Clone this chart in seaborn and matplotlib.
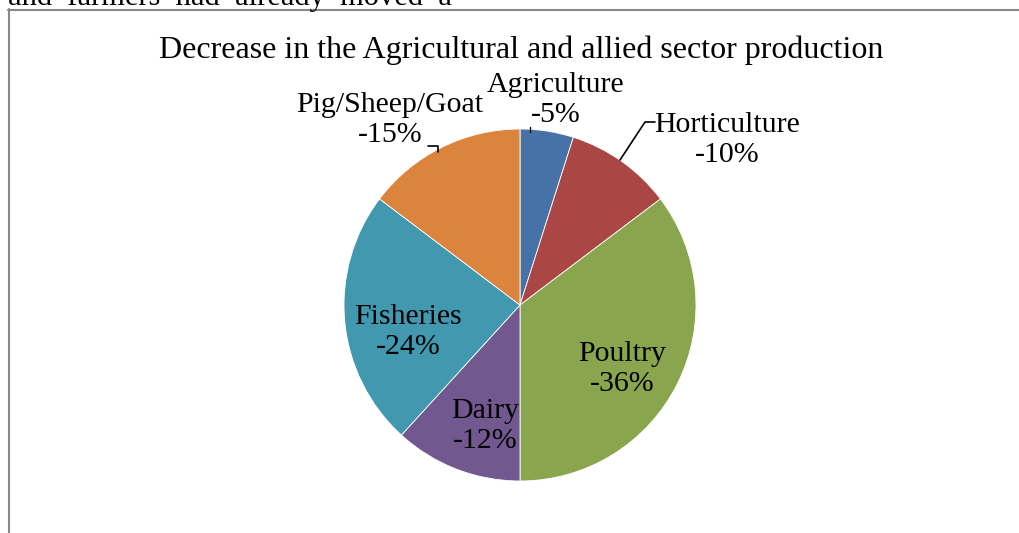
import matplotlib
matplotlib.use("Agg")
import matplotlib.pyplot as plt
from matplotlib.lines import Line2D
import seaborn as sns

# Sector-wise decrease in production (percent)
sectors = ["Agriculture", "Horticulture", "Poultry", "Dairy", "Fisheries", "Pig/Sheep/Goat"]
decrease = [-5, -10, -36, -12, -24, -15]
palette = ["#4672A8", "#AA4643", "#89A54E", "#71588F", "#4198AF", "#DB843D"]

sns.set_theme(style="white")
plt.rcParams["font.family"] = ["Liberation Serif", "DejaVu Serif"]

W, H = 1019, 533
fig = plt.figure(figsize=(W / 100, H / 100), dpi=100)
fig.patch.set_facecolor("white")

# pie centre and radius in pixels
cx, cy, r = 520, 305, 176
ax = fig.add_axes([0, 0, 1, 1])
sizes = [abs(v) for v in decrease]
wedges, _ = ax.pie(sizes, colors=sns.color_palette(palette), startangle=90,
                   counterclock=False, radius=1.0,
                   wedgeprops=dict(edgecolor="white", linewidth=0.6))
ax.set_aspect("auto")
ax.set_xlim(-cx / r, (W - cx) / r)
ax.set_ylim(-(H - cy) / r, cy / r)
ax.axis("off")

def px(x, y):
    return ((x - cx) / r, (cy - y) / r)

# label block centres (pixels)
label_pos = {
    "Agriculture": (556, 100),
    "Horticulture": (727, 140),
    "Poultry": (622, 369),
    "Dairy": (485, 426),
    "Fisheries": (408, 332),
    "Pig/Sheep/Goat": (390, 120),
}
fs = 21.5
for name, val in zip(sectors, decrease):
    x, y = px(*label_pos[name])
    ax.text(x, y, f"{name}\n{val}%", ha="center", va="center", fontsize=fs,
            linespacing=1.2, color="black")

# leader lines
lx, ly = zip(px(655, 122), px(645, 122), px(620, 160))
ax.plot(lx, ly, color="black", lw=1.2)
lx, ly = zip(px(428, 146), px(438, 146), px(438, 152))
ax.plot(lx, ly, color="black", lw=1.2)
lx, ly = zip(px(530, 127), px(530, 132))
ax.plot(lx, ly, color="black", lw=1.0)

fig.text(521 / W, 1 - 58 / H, "Decrease in the Agricultural and allied sector production",
         ha="center", va="baseline", fontsize=23, color="black")

# chart frame (left and top edges)
fig.add_artist(Line2D([8.5 / W, 8.5 / W], [0, 1 - 9 / H], transform=fig.transFigure,
                      color="#888888", lw=1.5))
fig.add_artist(Line2D([8 / W, 1], [1 - 9.5 / H, 1 - 9.5 / H], transform=fig.transFigure,
                      color="#888888", lw=1.5))

# running text above the chart
fig.text(8 / W, 1 - 5 / H, "and  farmers  had  already  moved  a", ha="left",
         va="baseline", fontsize=22, color="black")

fig.savefig("out.png", dpi=100)
